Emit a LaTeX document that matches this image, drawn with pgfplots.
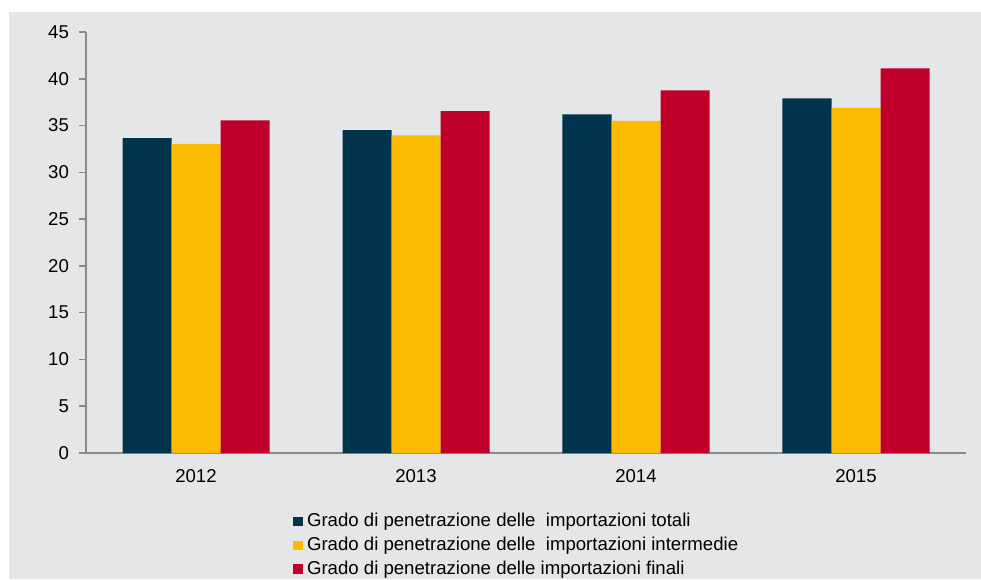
\documentclass[border=0pt]{standalone}
\usepackage{pgfplots}
\pgfplotsset{compat=1.18}
\usepackage{fontspec}
\setmainfont{Liberation Sans}
\definecolor{bgc}{HTML}{E5E6E8}
\definecolor{dblue}{HTML}{00334C}
\definecolor{dyel}{HTML}{FCBB00}
\definecolor{dred}{HTML}{C0002B}
\definecolor{axc}{HTML}{8A8A8A}
\begin{document}
\begin{tikzpicture}
% 1 px of the reference = 0.5pt
\clip (0,0) rectangle (490.5pt,289.5pt);
\fill[white] (0,0) rectangle (490.5pt,289.5pt);
\fill[bgc] (4.5pt,0) rectangle (490.5pt,283.5pt);
\begin{axis}[
  at={(43pt,63pt)}, anchor=south west,
  scale only axis, width=440pt, height=210.5pt,
  ybar, bar width=24.5pt,
  xmin=-0.5, xmax=3.5, ymin=0, ymax=45,
  ytick={0,5,...,45},
  xtick={0,1,2,3}, xticklabels={2012,2013,2014,2015},
  extra x ticks={-0.5,0.5,1.5,2.5,3.5}, extra x tick labels={},
  extra x tick style={major tick length=3.5pt, tick style={axc, line width=0.8pt}},
  axis lines*=left,
  axis line style={axc, line width=1.2pt, -},
  major tick length=3.5pt,
  ytick style={axc, line width=0.8pt},
  xtick style={draw=none},
  tick align=outside,
  font=\fontsize{9.3}{11}\selectfont,
  ticklabel style={font=\fontsize{9.3}{11}\selectfont},
  /pgf/number format/assume math mode=true,
  yticklabel style={xshift=-1.5pt},
  xticklabel style={yshift=-1pt},
  legend style={at={(0.2285,-0.123)}, anchor=north west, draw=none, fill=none,
    font=\fontsize{9.3}{11}\selectfont, row sep=-0.3pt,
    /tikz/every even column/.append style={column sep=0pt}},
  legend cell align=left,
  legend image code/.code={\fill[#1] (0pt,-2.4pt) rectangle (4.8pt,2.4pt);},
  clip=false,
]
\addplot[fill=dblue, draw=none, bar shift=-24.5pt] coordinates {(0,33.65) (1,34.5) (2,36.2) (3,37.9)};
\addplot[fill=dyel, draw=none, bar shift=0pt] coordinates {(0,33.05) (1,33.95) (2,35.5) (3,36.9)};
\addplot[fill=dred, draw=none, bar shift=24.5pt] coordinates {(0,35.55) (1,36.55) (2,38.75) (3,41.1)};
\legend{Grado di penetrazione delle\ \ importazioni totali,
        Grado di penetrazione delle\ \ importazioni intermedie,
        Grado di penetrazione delle importazioni finali}
\end{axis}
\end{tikzpicture}
\end{document}
